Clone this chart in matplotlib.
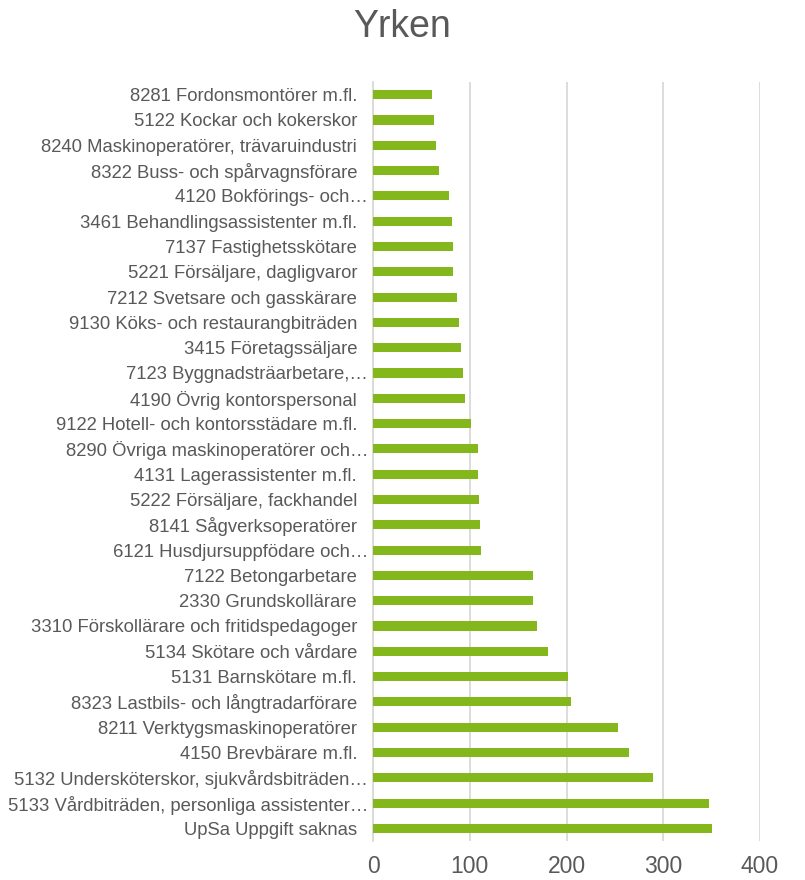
import matplotlib
matplotlib.use("Agg")
import matplotlib.pyplot as plt
import matplotlib.transforms as mtransforms

plt.rcParams['font.family'] = ['Liberation Sans', 'DejaVu Sans']

yrken = [
    "8281 Fordonsmontörer m.fl.",
    "5122 Kockar och kokerskor",
    "8240 Maskinoperatörer, trävaruindustri",
    "8322 Buss- och spårvagnsförare",
    "4120 Bokförings- och…",
    "3461 Behandlingsassistenter m.fl.",
    "7137 Fastighetsskötare",
    "5221 Försäljare, dagligvaror",
    "7212 Svetsare och gasskärare",
    "9130 Köks- och restaurangbiträden",
    "3415 Företagssäljare",
    "7123 Byggnadsträarbetare,…",
    "4190 Övrig kontorspersonal",
    "9122 Hotell- och kontorsstädare m.fl.",
    "8290 Övriga maskinoperatörer och…",
    "4131 Lagerassistenter m.fl.",
    "5222 Försäljare, fackhandel",
    "8141 Sågverksoperatörer",
    "6121 Husdjursuppfödare och…",
    "7122 Betongarbetare",
    "2330 Grundskollärare",
    "3310 Förskollärare och fritidspedagoger",
    "5134 Skötare och vårdare",
    "5131 Barnskötare m.fl.",
    "8323 Lastbils- och långtradarförare",
    "8211 Verktygsmaskinoperatörer",
    "4150 Brevbärare m.fl.",
    "5132 Undersköterskor, sjukvårdsbiträden…",
    "5133 Vårdbiträden, personliga assistenter…",
    "UpSa Uppgift saknas",
]
antal = [61, 63, 65, 68, 79, 82, 83, 83, 87, 89,
         91, 93, 95, 101, 108, 109, 110, 111, 112, 165,
         165, 169, 181, 202, 205, 253, 265, 289, 347, 350]
xticks = [0, 100, 200, 300, 400]

text_color = "#595959"
bar_color = "#84B71C"
grid_color = "#D9D9D9"

fig = plt.figure(figsize=(8.05, 8.8), dpi=100)
ax = fig.add_axes([0.4634, 0.0443, 0.4807, 0.8625])

pos = list(range(len(yrken)))
ax.barh(pos, antal, height=0.36, color=bar_color, zorder=3)

ax.set_xlim(0, 400)
ax.set_ylim(len(yrken) - 0.5, -0.5)
ax.set_yticks(pos)
ax.set_yticklabels(yrken, fontsize=13.3, color=text_color)
ax.set_xticks(xticks)
ax.set_xticklabels([str(v) for v in xticks], fontsize=16.5, color=text_color)
ax.tick_params(axis='y', length=0, pad=11.5)
ax.tick_params(axis='x', length=0, pad=10)

# truncated labels run closer to the axis, like in Excel
shift = mtransforms.ScaledTranslation(11 / 100, 0, fig.dpi_scale_trans)
for lab in ax.get_yticklabels():
    if lab.get_text().endswith("…"):
        lab.set_transform(lab.get_transform() + shift)

ax.grid(axis='x', color=grid_color, linewidth=1.3, zorder=0)
for s in ['top', 'right', 'bottom']:
    ax.spines[s].set_visible(False)
ax.spines['left'].set_color(grid_color)
ax.spines['left'].set_linewidth(1.3)

fig.text(0.5, 0.969, "Yrken", ha='center', va='center', fontsize=27, color=text_color)

fig.savefig("out.png", dpi=100)
